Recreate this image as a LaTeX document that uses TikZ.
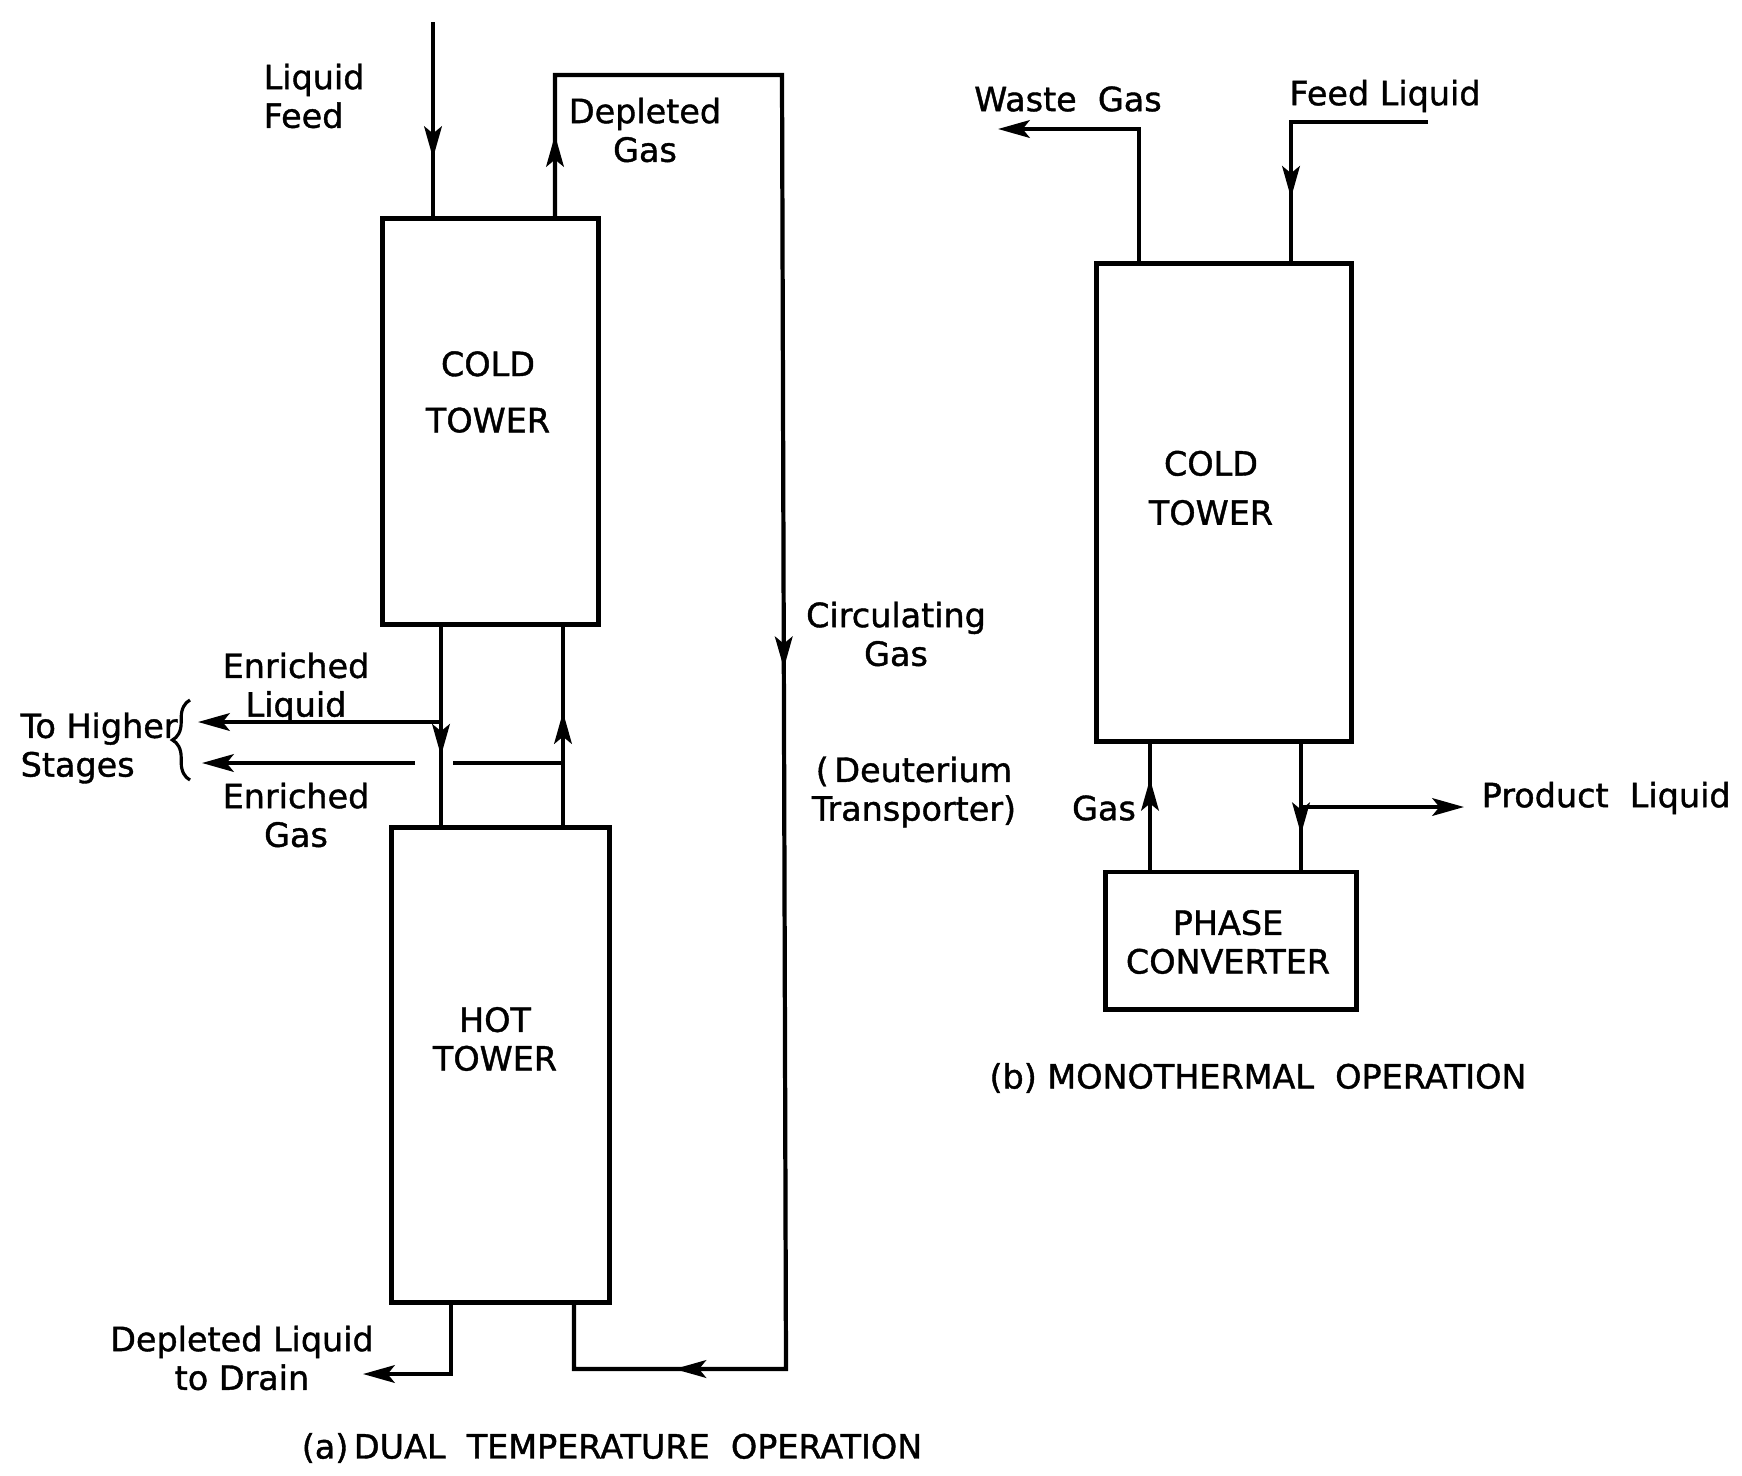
\documentclass[tikz,border=0pt]{standalone}
\usepackage{fontspec}
\setmainfont{DejaVu Sans}[BoldFont={DejaVu Sans}, BoldFeatures={FakeBold=1.2}]
\usepackage{tikz}
\usetikzlibrary{arrows.meta,positioning,decorations.markings,decorations.pathreplacing}

\tikzset{
  tower/.style={draw, line width=1.4pt, inner sep=0pt},
  flow/.style={line width=1.2pt},
  tipat/.style={postaction={decorate, decoration={markings, mark=at position #1 with {\arrow{>}}}}},
  lbl/.style={font=\fontsize{9.5}{11}\selectfont\bfseries, align=center, inner sep=0pt},
}

\begin{document}
\begin{tikzpicture}[>={Stealth[length=9pt, width=5pt, inset=2pt]}, x=0.01cm, y=-0.01cm]
\useasboundingbox (0,0) rectangle (1742,1475);

% (a) Towers
\node[tower, minimum width=2.15cm, minimum height=4.05cm] (coldA) at (490.5,421.5) {};
\node[tower, minimum width=2.17cm, minimum height=4.74cm] (hotA) at (500.5,1065) {};
\node[lbl, font=\fontsize{9.5}{16}\selectfont\bfseries] (coldAtxt) at (488,392) {COLD\\TOWER};
\node[lbl] (hotAtxt) at (495,1039) {HOT\\TOWER};

% (a) Liquid feed
\coordinate (feedA) at (433,22);
\draw[flow, tipat=0.70] (feedA) -- (feedA |- coldA.north);
\node[lbl, align=left, anchor=west] (feedAtxt) at (263,96) {Liquid\\Feed};

% (a) Circulating gas loop
\coordinate (loopTL) at (555,75);
\coordinate (loopTR) at (782,75);
\coordinate (loopBR) at (786,1369);
\coordinate (loopBL) at (574,1369);
\draw[flow, tipat=0.042, tipat=0.496, tipat=0.915]
  (loopTL |- coldA.north) -- (loopTL) -- (loopTR) -- (loopBR) -- (loopBL) -- (loopBL |- hotA.south);
\node[lbl] (depgasTxt) at (645,130) {Depleted\\Gas};
\node[lbl] (circTxt) at (896,634) {Circulating\\Gas};
\node[lbl] (deutTxt) at (914,792) {(\,Deuterium\\Transporter)};

% (a) Between towers
\coordinate (liqA) at (441,722);
\coordinate (gasA) at (563,763);
\draw[flow, tipat=0.65] (coldA.south -| liqA) -- (hotA.north -| liqA);
\draw[flow, tipat=0.57] (hotA.north -| gasA) -- (coldA.south -| gasA);

% (a) Enriched streams
\coordinate (liqOut) at (198,722);
\coordinate (gapR) at (453,763);
\coordinate (gapL) at (415,763);
\coordinate (gasOut) at (202,763);
\draw[flow, ->] (liqA) -- (liqOut);
\draw[flow] (gasA) -- (gapR);
\draw[flow, ->] (gapL) -- (gasOut);
\coordinate (braceB) at (190,780);
\coordinate (braceT) at (190,700);
\draw[line width=0.9pt, decorate, decoration={brace, amplitude=5pt}] (braceB) -- (braceT);
\node[lbl] (enlTxt) at (296,688) {Enriched\\Liquid};
\node[lbl] (engTxt) at (296,815) {Enriched\\Gas};
\node[lbl, align=left, anchor=west] (higherTxt) at (20,748) {To Higher\\Stages};

% (a) Drain
\coordinate (drainC) at (451,1374);
\coordinate (drainOut) at (363,1374);
\draw[flow, ->] (hotA.south -| drainC) -- (drainC) -- (drainOut);
\node[lbl] (drainTxt) at (242,1358) {Depleted Liquid\\to Drain};

\node[lbl] (capA) at (612,1448) {(a)\,DUAL\ \ TEMPERATURE\ \ OPERATION};

% (b) Tower and converter
\node[tower, minimum width=2.54cm, minimum height=4.77cm] (coldB) at (1224,502.5) {};
\node[tower, minimum width=2.50cm, minimum height=1.37cm] (conv) at (1231,940.5) {};
\node[lbl, font=\fontsize{9.5}{14}\selectfont\bfseries] (coldBtxt) at (1211,488) {COLD\\TOWER};
\node[lbl] (convTxt) at (1228,942) {PHASE\\CONVERTER};

% (b) Waste gas and feed
\coordinate (wasteC) at (1139,129);
\coordinate (wasteOut) at (998,129);
\draw[flow, ->] (coldB.north -| wasteC) -- (wasteC) -- (wasteOut);
\node[lbl] (wasteTxt) at (1068,99) {Waste\ \ Gas};
\coordinate (feedB) at (1428,122);
\coordinate (feedC) at (1291,122);
\draw[flow, tipat=0.77] (feedB) -- (feedC) -- (feedC |- coldB.north);
\node[lbl] (feedBtxt) at (1385,96) {Feed\ Liquid};

% (b) Gas and product
\coordinate (gasB) at (1150,808);
\coordinate (prodC) at (1301,807);
\coordinate (prodOut) at (1464,807);
\draw[flow, tipat=0.72] (conv.north -| gasB) -- (coldB.south -| gasB);
\draw[flow, tipat=0.72] (coldB.south -| prodC) -- (conv.north -| prodC);
\draw[flow, ->] (prodC) -- (prodOut);
\node[lbl] (gasBtxt) at (1104,808) {Gas};
\node[lbl, anchor=west] (prodTxt) at (1481,798) {Product\ \ Liquid};

\node[lbl] (capB) at (1258,1078) {(b)\ MONOTHERMAL\ \ OPERATION};
\end{tikzpicture}
\end{document}
